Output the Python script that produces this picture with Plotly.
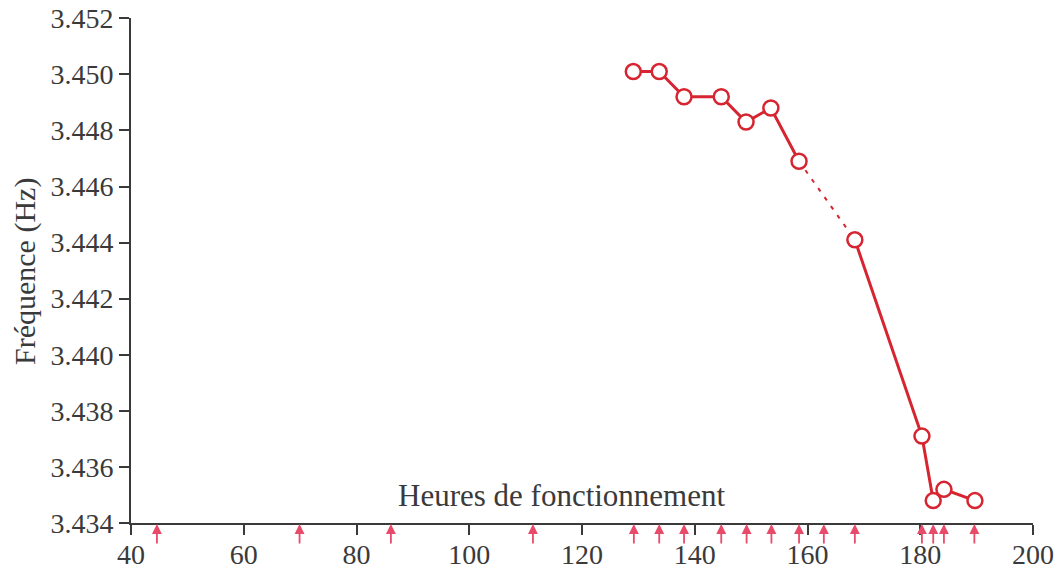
import plotly.graph_objects as go

hours = [129.1, 133.7, 138.1, 144.7, 149.1, 153.5, 158.5, 168.4, 180.3, 182.3, 184.2, 189.7]
freq = [3.4501, 3.4501, 3.4492, 3.4492, 3.4483, 3.4488, 3.4469, 3.4441, 3.4371, 3.4348, 3.4352, 3.4348]
events = [44.6, 69.9, 86.1, 111.3, 129.2, 133.7, 138.1, 144.7, 149.2, 153.6, 158.5, 162.9, 168.4,
          180.3, 182.3, 184.2, 189.6]
x_ticks = [40, 60, 80, 100, 120, 140, 160, 180, 200]
y_ticks = [3.434, 3.436, 3.438, 3.440, 3.442, 3.444, 3.446, 3.448, 3.450, 3.452]

RED = "#d62530"
PINK = "#e84a6a"
GREY = "#3a3a3a"
FONT = "Liberation Serif"

fig = go.Figure()
fig.add_trace(go.Scatter(x=hours[:7], y=freq[:7], mode="lines",
                         line=dict(color=RED, width=3), hoverinfo="skip"))
fig.add_trace(go.Scatter(x=hours[6:8], y=freq[6:8], mode="lines",
                         line=dict(color=RED, width=2, dash="4px,7px"), hoverinfo="skip"))
fig.add_trace(go.Scatter(x=hours[7:], y=freq[7:], mode="lines",
                         line=dict(color=RED, width=3), hoverinfo="skip"))
fig.add_trace(go.Scatter(x=hours, y=freq, mode="markers",
                         marker=dict(symbol="circle", size=15, color="white",
                                     line=dict(color=RED, width=2.5))))

for e in events:
    fig.add_annotation(x=e, y=3.434, xref="x", yref="y", text="", showarrow=True,
                       ax=0, ay=22, axref="pixel", ayref="pixel",
                       arrowhead=2, arrowsize=1.1, arrowwidth=1.8, arrowcolor=PINK, standoff=1)

fig.add_annotation(x=116.3, y=3.4343, xref="x", yref="y", text="Heures de fonctionnement",
                   showarrow=False, xanchor="center", yanchor="bottom",
                   font=dict(family=FONT, size=31, color=GREY))

fig.add_annotation(x=-0.1175, y=0.497, xref="paper", yref="paper", text="Fréquence (Hz)",
                   showarrow=False, xanchor="center", yanchor="middle", textangle=-90,
                   font=dict(family=FONT, size=30, color=GREY))

fig.update_layout(
    width=1058, height=572,
    margin=dict(l=131, r=25, t=18, b=49, autoexpand=False),
    paper_bgcolor="white", plot_bgcolor="white",
    showlegend=False,
    font=dict(family=FONT, size=28, color=GREY),
    xaxis=dict(range=[40, 200.0001], tickvals=x_ticks, ticktext=[str(v) for v in x_ticks],
               showgrid=False, zeroline=False, showline=True, linecolor=GREY, linewidth=2,
               ticks="outside", ticklen=10, tickwidth=2, tickcolor=GREY, automargin=False,
               ticklabeloverflow="allow", ticklabelstandoff=-5,
               tickfont=dict(family=FONT, size=28, color=GREY)),
    yaxis=dict(range=[3.434, 3.45201], tickvals=y_ticks, ticktext=[f"{v:.3f}" for v in y_ticks],
               showgrid=False, zeroline=False, showline=True, linecolor=GREY, linewidth=2,
               ticks="outside", ticklen=10, tickwidth=2, tickcolor=GREY, automargin=False,
               ticklabeloverflow="allow",
               tickfont=dict(family=FONT, size=28, color=GREY)),
)

fig.write_html("out.html", config={"displayModeBar": False},
               post_script="document.body.style.margin='0';")
